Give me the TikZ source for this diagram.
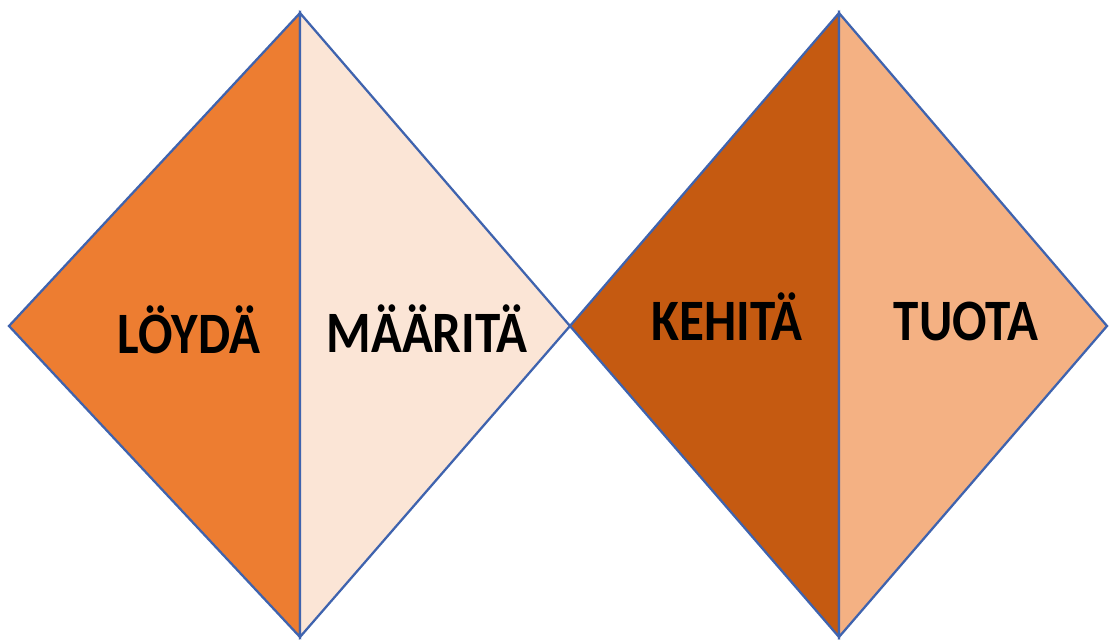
\documentclass[tikz,border=0pt]{standalone}
\usepackage{fontspec}
\setmainfont{Carlito}
\definecolor{orangeA}{HTML}{ED7D31}
\definecolor{peachA}{HTML}{FBE5D6}
\definecolor{rustA}{HTML}{C55A11}
\definecolor{apricotA}{HTML}{F4B183}
\definecolor{edgeA}{HTML}{3F63AE}
\begin{document}
\begin{tikzpicture}[x=0.75pt,y=-0.75pt,
  half/.style={draw=edgeA,line width=1.7pt,line join=miter},
  lbl/.style={font=\fontsize{44}{44}\selectfont\bfseries,text=black,inner sep=0pt,anchor=base,xscale=0.87}]
\useasboundingbox (0,0) rectangle (1109,639);
% left diamond
\coordinate (L1) at (9,326);
\coordinate (T1) at (300,13);
\coordinate (R1) at (570,326);
\coordinate (B1) at (300,637);
% right diamond
\coordinate (T2) at (839,13);
\coordinate (R2) at (1107,326);
\coordinate (B2) at (839,637);
\filldraw[half,fill=orangeA] (L1) -- (T1) -- (B1) -- cycle;
\filldraw[half,fill=peachA] (T1) -- (R1) -- (B1) -- cycle;
\filldraw[half,fill=rustA] (R1) -- (T2) -- (B2) -- cycle;
\filldraw[half,fill=apricotA] (T2) -- (R2) -- (B2) -- cycle;
\node[lbl] (loyda) at (189,353) {LÖYDÄ};
\node[lbl] (maarita) at (427,352) {MÄÄRITÄ};
\node[lbl] (kehita) at (727,340) {KEHITÄ};
\node[lbl] (tuota) at (966,340) {TUOTA};
\end{tikzpicture}
\end{document}
